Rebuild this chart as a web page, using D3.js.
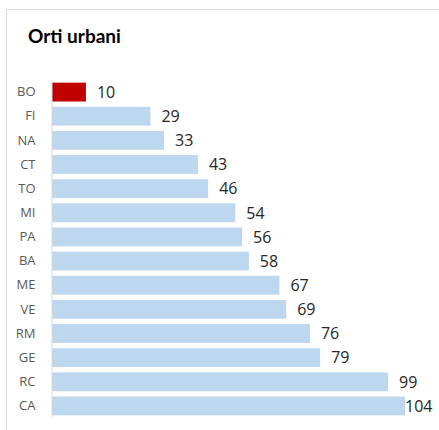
<!DOCTYPE html>
<html><head><meta charset="utf-8">
<script src="https://cdn.jsdelivr.net/npm/d3@7"></script>
<style>html,body{margin:0;padding:0;background:#fff;}svg{display:block;}</style>
</head><body>
<svg id="c" width="439" height="430"></svg>
<script>
const categories = ["BO","FI","NA","CT","TO","MI","PA","BA","ME","VE","RM","GE","RC","CA"];
const values = [10,29,33,43,46,54,56,58,67,69,76,79,99,104];
const highlight = ["BO"];
const title = "Orti urbani";

const svg = d3.select("#c");
// frame
svg.append("path").attr("d","M6.5,430 L6.5,9.5 L439,9.5").attr("fill","none").attr("stroke","#d9d9d9").attr("stroke-width",1);

svg.append("text").attr("x",28).attr("y",43).text(title)
  .attr("font-family","Lato, 'Open Sans', sans-serif").attr("font-weight","bold").attr("font-size",19).attr("fill","#000");

const x0 = 51.5;
const x = d3.scaleLinear().domain([0,104]).range([x0+0.5, 405]);
const y = d3.scaleBand().domain(categories).range([80, 418]).paddingInner(0.22).paddingOuter(0.11);

svg.selectAll("rect.bar").data(categories).join("rect")
  .attr("x", x(0)).attr("y", d=>y(d)).attr("height", y.bandwidth())
  .attr("width", (d,i)=>x(values[i])-x(0))
  .attr("fill", d=>highlight.includes(d)?"#c00000":"#bdd7ee");

const axis = d3.axisLeft(y).tickSize(0).tickPadding(16);
const g = svg.append("g").attr("transform",`translate(${x0},0)`).call(axis);
g.select(".domain").attr("stroke","#d9d9d9");
g.selectAll("text").attr("font-family","'Open Sans', sans-serif").attr("font-size",13).attr("fill","#595959");

svg.selectAll("text.val").data(categories).join("text")
  .attr("class","val")
  .attr("x",(d,i)=>Math.min(x(values[i])+11, 405))
  .attr("y",d=>y(d)+y.bandwidth()/2).attr("dy","0.36em")
  .text((d,i)=>values[i])
  .attr("font-family","'Open Sans', sans-serif").attr("font-size",16).attr("fill","#262626");
</script>
</body></html>
